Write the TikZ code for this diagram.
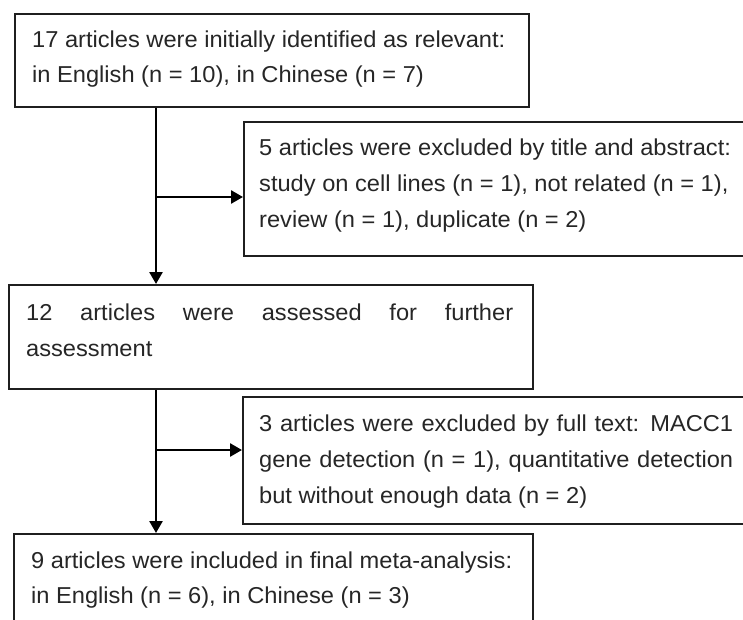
\documentclass[tikz,border=0pt]{standalone}
\usepackage{fontspec}
\setmainfont{Liberation Sans}[FakeStretch=1.028]
\usetikzlibrary{arrows.meta}
\newcommand\jline[2]{\hbox to #1{\spaceskip=0.28em plus 1fil\relax #2}}
\begin{document}
\begin{tikzpicture}[x=1pt,y=-1pt,
  box/.style={draw=black!88, line width=1.8pt, rectangle, inner sep=0pt, anchor=north west},
  txt/.style={inner sep=0pt, anchor=base west, font=\fontsize{23}{36}\selectfont, text=black!85},
  flow/.style={draw=black, line width=2.6pt, -{Triangle[length=12pt,width=13pt]}}]
\useasboundingbox (0,0) rectangle (743,620);
\clip (0,0) rectangle (743,620);
\fill[white] (0,0) rectangle (743,620);
% boxes
\node[box, minimum width=514pt, minimum height=93pt] (b1) at (14,13) {};
\node[box, minimum width=530pt, minimum height=134pt] (b2) at (243,121) {};
\node[box, minimum width=524pt, minimum height=104pt] (b3) at (8,284) {};
\node[box, minimum width=530pt, minimum height=127pt] (b4) at (242,396) {};
\node[box, minimum width=519pt, minimum height=110pt] (b5) at (13,533) {};
% texts
\node[txt] (t1a) at (32,48) {17 articles were initially identified as relevant:};
\node[txt] (t1b) at (32,83) {in English (n = 10), in Chinese (n = 7)};
\node[txt] (t2a) at (259,156) {5 articles were excluded by title and abstract:};
\node[txt] (t2b) at (259,192) {study on cell lines (n = 1), not related (n = 1),};
\node[txt] (t2c) at (259,227) {review (n = 1), duplicate (n = 2)};
\node[txt] (t3a) at (26,320) {\jline{487pt}{12 articles were assessed for further}};
\node[txt] (t3b) at (26,356) {assessment};
\node[txt] (t4a) at (259,431) {\jline{474pt}{3 articles were excluded by full text: MACC1}};
\node[txt] (t4b) at (259,467) {\jline{474pt}{gene detection (n = 1), quantitative detection}};
\node[txt] (t4c) at (259,503) {but without enough data (n = 2)};
\node[txt] (t5a) at (31,568) {9 articles were included in final meta-analysis:};
\node[txt] (t5b) at (31,603) {in English (n = 6), in Chinese (n = 3)};
% connectors
\coordinate (xl) at (156,0);
\coordinate (j1) at (156,197);
\coordinate (j2) at (156,450);
\draw[flow] (b1.south -| xl) -- (b3.north -| xl);
\draw[flow] (j1) -- (j1 -| b2.west);
\draw[flow] (b3.south -| xl) -- (b5.north -| xl);
\draw[flow] (j2) -- (j2 -| b4.west);
\end{tikzpicture}
\end{document}
